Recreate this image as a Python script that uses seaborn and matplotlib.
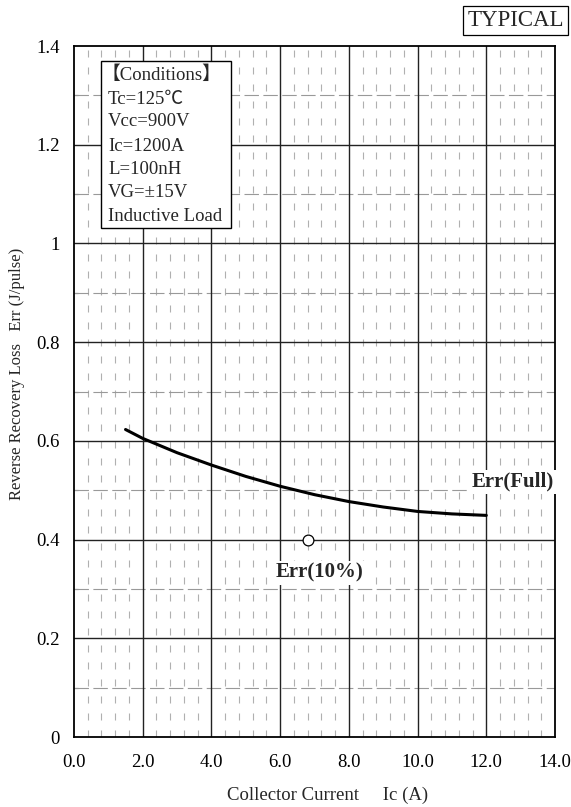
import numpy as np
import pandas as pd
import matplotlib
matplotlib.use("Agg")
import matplotlib.pyplot as plt
import seaborn as sns
from matplotlib.patches import Rectangle

# Data
ic_full = [1.5, 2.0, 3.0, 4.0, 5.0, 6.0, 7.0, 8.0, 9.0, 10.0, 11.0, 12.0]
err_full = [0.623, 0.605, 0.576, 0.551, 0.528, 0.508, 0.491, 0.477, 0.466, 0.457, 0.452, 0.449]
ic_10 = [6.8]
err_10 = [0.400]
x_ticks = [0, 2, 4, 6, 8, 10, 12, 14]
x_labels = ["0.0", "2.0", "4.0", "6.0", "8.0", "10.0", "12.0", "14.0"]
y_ticks = [0, 0.2, 0.4, 0.6, 0.8, 1.0, 1.2, 1.4]
y_labels = ["0", "0.2", "0.4", "0.6", "0.8", "1", "1.2", "1.4"]
conditions = ["【Conditions】", "Tc=125℃", "Vcc=900V", "Ic=1200A", "L=100nH", "VG=±15V", "Inductive Load"]

sns.set_style("white")
FAM = ['Liberation Serif', 'Noto Sans CJK JP', 'DejaVu Sans']
plt.rcParams['font.family'] = FAM

fig = plt.figure(figsize=(5.71, 8.07), dpi=100)
ax = fig.add_axes([74/571, 1-737/807, (555-74)/571, (737-46)/807])

ax.set_xlim(0, 14)
ax.set_ylim(0, 1.4)

# minor dashed grid
for xv in np.arange(0, 14.001, 0.4):
    if abs(xv / 2 - round(xv / 2)) > 1e-6:
        ax.axvline(xv, color="#b0b0b0", lw=0.8, ls=(0, (6.3, 9)), zorder=1)
for yv in np.arange(0.1, 1.4, 0.2):
    ax.axhline(yv, color="#999999", lw=0.8, ls=(0, (13, 4)), zorder=1)
# major grid
for xv in x_ticks[1:-1]:
    ax.axvline(xv, color="#222222", lw=1.0, zorder=2)
for yv in y_ticks[1:-1]:
    ax.axhline(yv, color="#222222", lw=1.0, zorder=2)

df_full = pd.DataFrame({"Ic": ic_full, "Err": err_full})
sns.lineplot(data=df_full, x="Ic", y="Err", ax=ax, color="black", lw=2.2, zorder=4)
df10 = pd.DataFrame({"Ic": ic_10, "Err": err_10})
sns.scatterplot(data=df10, x="Ic", y="Err", ax=ax, s=60, facecolor="white",
                edgecolor="black", linewidth=0.9, zorder=5)

ax.set_xticks(x_ticks)
ax.set_xticklabels(x_labels)
ax.set_yticks(y_ticks)
ax.set_yticklabels(y_labels)
ax.set_yticks(np.arange(0.1, 1.4, 0.2), minor=True)
ax.tick_params(axis="both", which="major", direction="in", length=5, width=1,
               labelsize=13.5, colors="black")
ax.tick_params(axis="x", pad=12)
ax.tick_params(axis="y", pad=10)
ax.tick_params(axis="y", which="minor", direction="in", length=3, width=0.8, left=True)
for s in ax.spines.values():
    s.set_color("black")
    s.set_linewidth(1.3)
    s.set_zorder(6)

ax.set_xlabel("Collector Current     Ic (A)", fontsize=13.5)
ax.xaxis.set_label_coords((327.5 - 74) / 481, (737 - 795) / 691)
ax.xaxis.label.set_va("center")
ax.set_ylabel("Reverse Recovery Loss   Err (J/pulse)", fontsize=12)
ax.yaxis.set_label_coords((17 - 74) / 481, (737 - 374) / 691)
ax.yaxis.label.set_va("center")

# Conditions box
ax.add_patch(Rectangle((0.777, 1.031), 4.56 - 0.777, 1.370 - 1.031, facecolor="white",
                       edgecolor="black", lw=1.0, zorder=7))
ys = [75, 100, 122, 147, 170, 193, 217]
for i, (t, ypx) in enumerate(zip(conditions, ys)):
    yd = (737 - ypx) / 493.5
    xpx = 102 if i == 0 else 108
    xd = (xpx - 74) / 34.36
    ax.text(xd, yd, t, fontsize=13.5, va="center", ha="left", zorder=8, family=FAM)

# curve labels
ax.text((513 - 74) / 34.36, (737 - 482) / 493.5, "Err(Full)", fontsize=15, fontweight="bold",
        ha="center", va="center", zorder=8,
        bbox=dict(facecolor="white", edgecolor="none", pad=1.5))
ax.text((320 - 74) / 34.36, (737 - 573) / 493.5, "Err(10%)", fontsize=15, fontweight="bold",
        ha="center", va="center", zorder=8,
        bbox=dict(facecolor="white", edgecolor="none", pad=1.5))

fig.text(515.5/571, 1-20.5/807, "TYPICAL", fontsize=16.5, ha="center", va="center",
         bbox=dict(facecolor="white", edgecolor="black", lw=0.9, pad=3.0))

fig.savefig("out.png", dpi=100)
